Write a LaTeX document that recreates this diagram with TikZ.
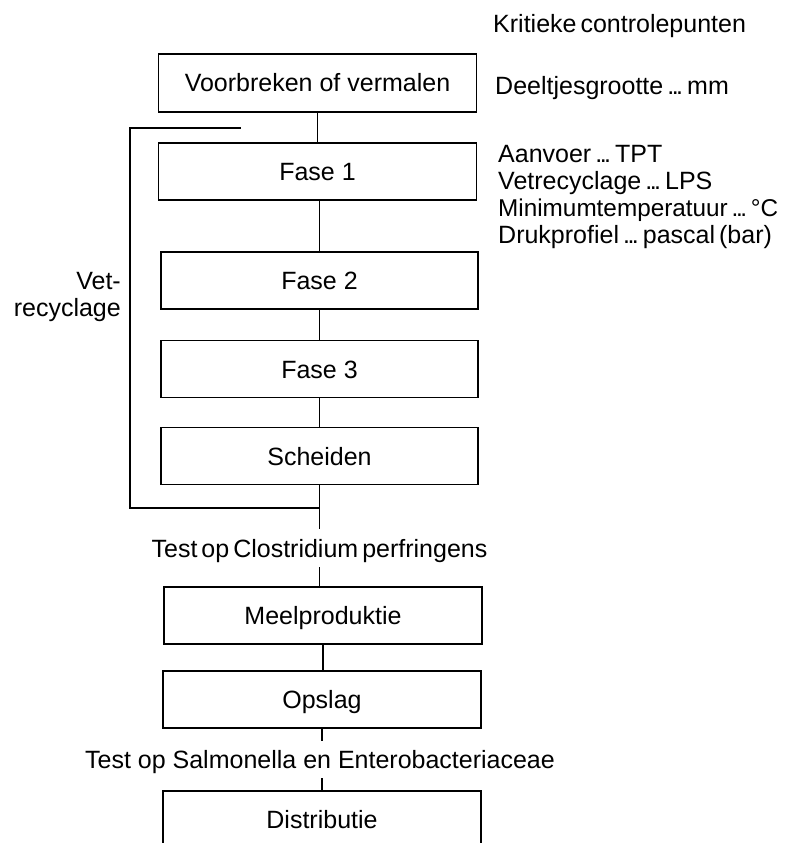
\documentclass[tikz,border=0pt]{standalone}
\usepackage{fontspec}
\setmainfont{Liberation Sans}
% close-set ellipsis and narrower word spaces for the short labels
\newcommand\dts{.\kern-2.5pt.\kern-2.5pt.}
\newcommand\tightsp{\frenchspacing\spaceskip=4pt plus 1pt minus 1pt\relax}
\begin{document}
\begin{tikzpicture}[x=1pt,y=-1pt,
  every node/.style={font=\fontsize{25}{27}\selectfont},
  tightwords/.style={font=\fontsize{25}{27}\selectfont\tightsp},
  line/.style={line width=1.8pt, line join=miter},
  stepbox/.style={draw, line width=1.8pt, minimum width=318pt, minimum height=57pt,
    inner sep=0pt, text height=18pt, text depth=0pt},
  testlabel/.style={inner sep=0pt, text height=18pt, text depth=0pt},
  cpt/.style={tightwords, anchor=base west, inner sep=0pt}]
\useasboundingbox (0,0) rectangle (785,843);
\clip (0,0) rectangle (785,843);

% process steps
\node[stepbox, minimum height=58pt] (v) at (317.5,83) {Voorbreken of vermalen};
\node[stepbox] (f1) at (317.5,171.5) {Fase 1};
\node[stepbox, minimum width=317pt] (f2) at (319.5,280.5) {Fase 2};
\node[stepbox, minimum width=317pt] (f3) at (319.5,369) {Fase 3};
\node[stepbox, minimum width=317pt] (sch) at (319.5,456) {Scheiden};
\node[testlabel, tightwords, minimum height=38pt] (t1) at (319.5,548) {Test op Clostridium perfringens};
\node[stepbox] (meel) at (323,615.5) {Meelproduktie};
\node[stepbox] (ops) at (322,699.5) {Opslag};
\node[testlabel, minimum height=37pt] (t2) at (320,759.5) {Test op Salmonella en Enterobacteriaceae};
\node[stepbox] (dist) at (322,819.5) {Distributie};

% critical control points
\node[cpt] (kcp) at (493,33) {Kritieke controlepunten};
\node[cpt] (cp0) at (495,94) {Deeltjesgrootte \dts{} mm};
\node[cpt] (cp1) at (498,162) {Aanvoer \dts{} TPT};
\node[cpt] (cp2) at (498,189) {Vetrecyclage \dts{} LPS};
\node[cpt, font=\fontsize{24.3}{27}\selectfont\tightsp] (cp3) at (498,216) {Minimumtemperatuur \dts{} °C};
\node[cpt] (cp4) at (498,243) {Drukprofiel \dts{} pascal (bar)};

% fat recycling label
\node[anchor=east, inner sep=0pt, align=right] (vet) at (121,296.5) {Vet-\\recyclage};

% flow connectors
\draw[line] (v.south) -- (f1.north);
\draw[line] (f2.north |- f1.south) -- (f2.north);
\draw[line] (f2.south) -- (f3.north);
\draw[line] (f3.south) -- (sch.north);
\draw[line] (sch.south) -- (sch.south |- t1.north);
\draw[line] (t1.south) -- (t1.south |- meel.north);
\draw[line] (meel.south) -- (meel.south |- ops.north);
\draw[line] (ops.south) -- (ops.south |- t2.north);
\draw[line] (t2.south -| dist.north) -- (dist.north);

% fat recycling loop
\coordinate (rj) at (319.5,508);
\coordinate (rl) at (130,128);
\coordinate (re) at (241,128);
\draw[line] (rj) -| (rl) -- (re);
\end{tikzpicture}
\end{document}
